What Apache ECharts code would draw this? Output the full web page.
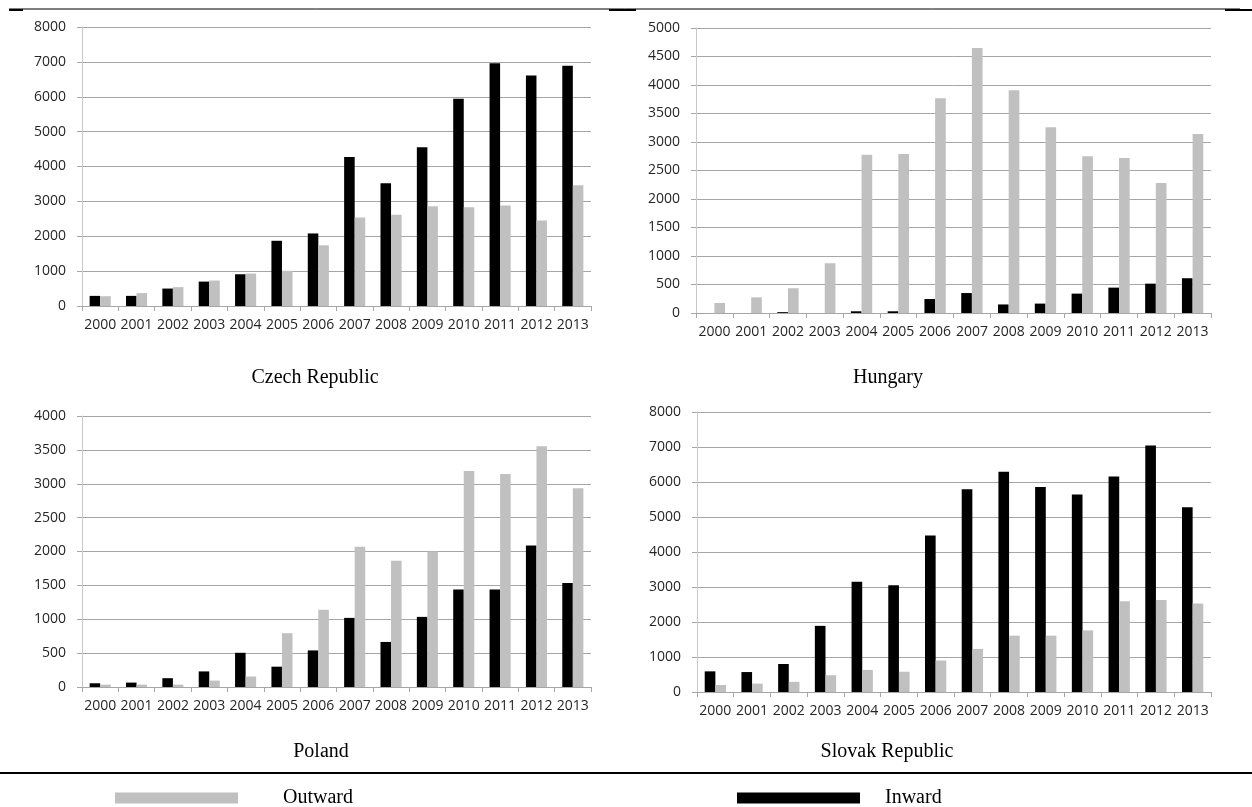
<!DOCTYPE html>
<html>
<head>
<meta charset="utf-8">
<script src="https://cdn.jsdelivr.net/npm/echarts@6/dist/echarts.min.js"></script>
<style>
  html, body { margin: 0; padding: 0; background: #fff; }
  #main { width: 1252px; height: 807px; }
</style>
</head>
<body>
<div id="main"></div>
<script>
const years = ['2000','2001','2002','2003','2004','2005','2006','2007','2008','2009','2010','2011','2012','2013'];

// Czech Republic
const czInward  = [290, 290, 500, 700, 910, 1870, 2080, 4270, 3520, 4550, 5940, 6960, 6610, 6890];
const czOutward = [280, 370, 540, 730, 930, 1010, 1740, 2540, 2620, 2860, 2830, 2880, 2450, 3460];
// Hungary
const huInward  = [0, 0, 15, 0, 30, 30, 245, 350, 150, 165, 340, 445, 515, 610];
const huOutward = [175, 275, 434, 873, 2778, 2790, 3769, 4650, 3910, 3260, 2750, 2720, 2280, 3140];
// Poland
const plInward  = [55, 65, 130, 230, 505, 300, 540, 1020, 665, 1035, 1440, 1440, 2090, 1535];
const plOutward = [35, 35, 35, 95, 155, 795, 1140, 2070, 1865, 2000, 3190, 3145, 3555, 2935];
// Slovak Republic
const skInward  = [590, 570, 800, 1890, 3150, 3050, 4470, 5790, 6290, 5860, 5640, 6160, 7040, 5280];
const skOutward = [200, 240, 290, 480, 630, 580, 900, 1230, 1610, 1610, 1760, 2590, 2630, 2530];

const panelNames = ['Czech Republic', 'Hungary', 'Poland', 'Slovak Republic'];
const yMax = [8000, 5000, 4000, 8000];
const yStep = [1000, 500, 500, 1000];

const inwardColor = '#000000';
const outwardColor = '#c0c0c0';
const labelFont = 'Open Sans';

// plot boxes [left, top, width, height]
const boxes = [
    [82, 27, 509, 279],
    [696, 28, 515, 285],
    [82, 416, 509, 271],
    [697, 412, 514, 280]
];
const titlePos = [[310, 363], [883, 363], [316, 737], [882, 737]];

const inwardData = [czInward, huInward, plInward, skInward];
const outwardData = [czOutward, huOutward, plOutward, skOutward];

const grid = [], xAxis = [], yAxis = [], series = [], title = [];
for (let i = 0; i < 4; i++) {
    const b = boxes[i];
    grid.push({ left: b[0], top: b[1], width: b[2], height: b[3], containLabel: false });
    xAxis.push({
        type: 'category',
        gridIndex: i,
        data: years,
        boundaryGap: true,
        axisLine: { lineStyle: { color: '#a6a6a6', width: 1 } },
        axisTick: { show: true, alignWithLabel: false, length: 5, lineStyle: { color: '#a6a6a6' } },
        axisLabel: { color: '#262626', fontFamily: labelFont, fontSize: 14, margin: 12, interval: 0 }
    });
    yAxis.push({
        type: 'value',
        gridIndex: i,
        min: 0,
        max: yMax[i],
        interval: yStep[i],
        axisLine: { show: true, lineStyle: { color: '#c8c8c8', width: 1 } },
        axisTick: { show: true, length: 5, lineStyle: { color: '#a6a6a6' } },
        axisLabel: {
            color: '#262626', fontFamily: labelFont, fontSize: 14, margin: 16,
            formatter: function (v) { return String(v); }
        },
        splitLine: { show: true, lineStyle: { color: '#a6a6a6', width: 1 } }
    });
    series.push({
        name: 'Inward',
        type: 'bar',
        xAxisIndex: i,
        yAxisIndex: i,
        data: inwardData[i],
        barGap: 0,
        barCategoryGap: '42%',
        itemStyle: { color: inwardColor },
        silent: true
    });
    series.push({
        name: 'Outward',
        type: 'bar',
        xAxisIndex: i,
        yAxisIndex: i,
        data: outwardData[i],
        barGap: 0,
        barCategoryGap: '42%',
        itemStyle: { color: outwardColor },
        silent: true
    });
    title.push({
        text: panelNames[i],
        left: titlePos[i][0],
        top: titlePos[i][1],
        textAlign: 'center',
        textStyle: { fontFamily: 'Liberation Serif', fontSize: 20, fontWeight: 'normal', color: '#000' }
    });
}

const option = {
    animation: false,
    backgroundColor: '#fff',
    title: title,
    grid: grid,
    xAxis: xAxis,
    yAxis: yAxis,
    series: series,
    legend: [
        {
            data: ['Outward'],
            left: 110,
            top: 783,
            icon: 'rect',
            itemWidth: 123,
            itemHeight: 11,
            textStyle: { fontFamily: 'Liberation Serif', fontSize: 20, color: '#000', padding: [0, 0, 0, 40] }
        },
        {
            data: ['Inward'],
            left: 732,
            top: 783,
            icon: 'rect',
            itemWidth: 123,
            itemHeight: 11,
            textStyle: { fontFamily: 'Liberation Serif', fontSize: 20, color: '#000', padding: [0, 0, 0, 20] }
        }
    ],
    graphic: [
        // top rule
        { type: 'line', shape: { x1: 9, y1: 9, x2: 1240, y2: 9 }, style: { stroke: '#000', lineWidth: 1 } },
        { type: 'line', shape: { x1: 9, y1: 10, x2: 23, y2: 10 }, style: { stroke: '#000', lineWidth: 2 } },
        { type: 'line', shape: { x1: 609, y1: 10, x2: 636, y2: 10 }, style: { stroke: '#000', lineWidth: 2 } },
        { type: 'line', shape: { x1: 1225, y1: 10, x2: 1252, y2: 10 }, style: { stroke: '#000', lineWidth: 2 } },
        // rule above legend
        { type: 'line', shape: { x1: 0, y1: 773, x2: 1252, y2: 773 }, style: { stroke: '#000', lineWidth: 2 } }
    ]
};

const chart = echarts.init(document.getElementById('main'));
chart.setOption(option);
window.onresize = function () {
    chart.resize();
};
</script>
</body>
</html>
